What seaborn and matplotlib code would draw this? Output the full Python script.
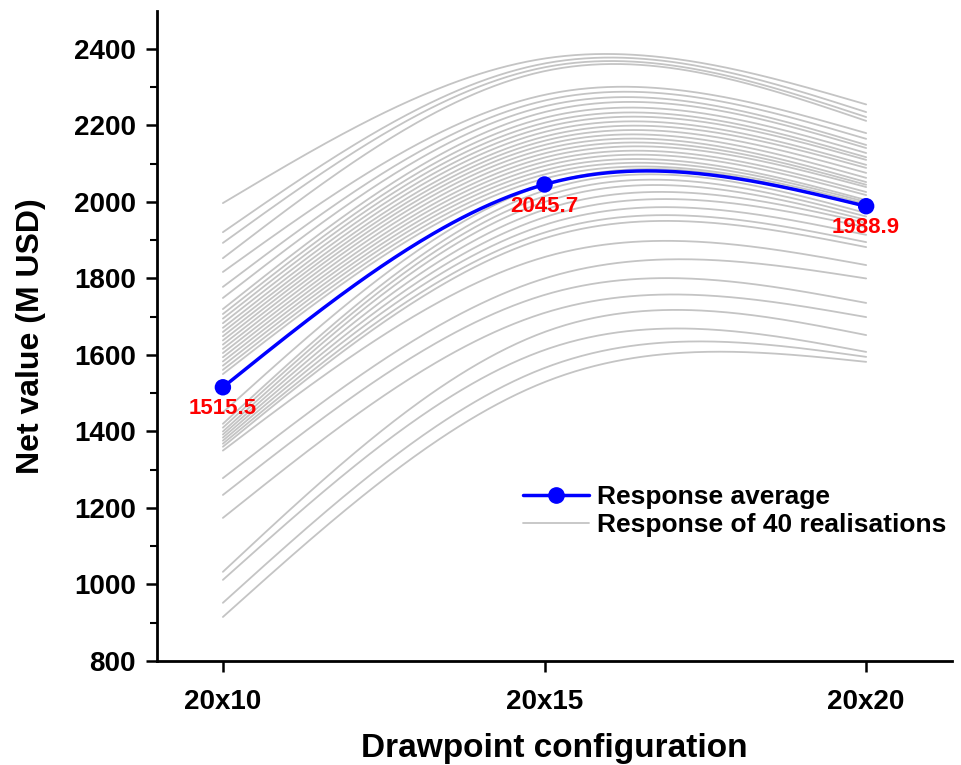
import numpy as np
import pandas as pd
import seaborn as sns
import matplotlib
matplotlib.use("Agg")
import matplotlib.pyplot as plt
from matplotlib.lines import Line2D

# drawpoint spacing (x positions) and tick labels
configs = [10, 15, 20]
config_labels = ["20x10", "20x15", "20x20"]

# net value of the 40 realisations, read at each configuration (M USD)
real_20x10 = [1997, 1921, 1893, 1853, 1817, 1778, 1749, 1720, 1707, 1695,
              1683, 1671, 1660, 1649, 1638, 1627, 1616, 1605, 1594, 1583,
              1572, 1561, 1550, 1450, 1420, 1410, 1400, 1392, 1384, 1376,
              1368, 1360, 1350, 1278, 1234, 1174, 1033, 1012, 952, 915]
real_20x15 = [2375, 2362, 2352, 2342, 2280, 2265, 2250, 2235, 2220, 2207,
              2195, 2183, 2171, 2160, 2149, 2138, 2127, 2116, 2105, 2094,
              2083, 2072, 2061, 2045, 2030, 2015, 2000, 1980, 1960, 1940,
              1920, 1905, 1856, 1800, 1757, 1710, 1660, 1613, 1566, 1529]
real_20x20 = [2255, 2235, 2222, 2212, 2180, 2165, 2149, 2141, 2128, 2117,
              2110, 2097, 2089, 2076, 2063, 2052, 2045, 2039, 2026, 2018,
              2005, 2000, 1995, 1987, 1971, 1962, 1953, 1945, 1934, 1914,
              1895, 1882, 1835, 1800, 1736, 1699, 1652, 1608, 1595, 1582]

# response average
avg_values = [1515.5, 2045.7, 1988.9]


def natural_spline(xk, yk, xs):
    """natural cubic spline through 3 equally spaced knots"""
    h = xk[1] - xk[0]
    m1 = 6.0 / h ** 2 * (yk[0] - 2 * yk[1] + yk[2]) / 4.0
    m = [0.0, m1, 0.0]
    out = np.empty_like(xs, dtype=float)
    for i, x in enumerate(xs):
        j = 0 if x <= xk[1] else 1
        a = xk[j + 1] - x
        b = x - xk[j]
        out[i] = (m[j] * a ** 3 / (6 * h) + m[j + 1] * b ** 3 / (6 * h)
                  + (yk[j] - m[j] * h ** 2 / 6) * a / h
                  + (yk[j + 1] - m[j + 1] * h ** 2 / 6) * b / h)
    return out


xs = np.linspace(configs[0], configs[-1], 200)
rows = []
for k, (a, b, c) in enumerate(zip(real_20x10, real_20x15, real_20x20)):
    ys = natural_spline(configs, [a, b, c], xs)
    rows.append(pd.DataFrame({"x": xs, "value": ys, "real": k}))
df_real = pd.concat(rows, ignore_index=True)
df_avg = pd.DataFrame({"x": xs, "value": natural_spline(configs, avg_values, xs)})
df_pts = pd.DataFrame({"x": configs, "value": avg_values})

sns.set_style("ticks")
plt.rcParams["font.family"] = ["Liberation Sans", "DejaVu Sans"]
plt.rcParams["font.weight"] = "bold"
for key in ["text.color", "axes.labelcolor", "xtick.color", "ytick.color",
            "axes.edgecolor"]:
    plt.rcParams[key] = "black"

fig = plt.figure(figsize=(9.61, 7.65), dpi=100)
ax = fig.add_axes([0.163, 0.136, 0.828, 0.850])

sns.lineplot(data=df_real, x="x", y="value", units="real", estimator=None,
             color="#c4c4c4", linewidth=1.3, sort=False, legend=False, ax=ax)
sns.lineplot(data=df_avg, x="x", y="value", color="#0000ff", linewidth=2.5,
             sort=False, legend=False, ax=ax, zorder=5)
sns.scatterplot(data=df_pts, x="x", y="value", color="#0000ff", s=140,
                edgecolor="none", legend=False, ax=ax, zorder=6)

for x, v in zip(configs, avg_values):
    ax.annotate(f"{v:.1f}", xy=(x, v), xytext=(0, -8),
                textcoords="offset points", ha="center", va="top",
                color="#ff0000", fontsize=16, fontweight="bold", zorder=7)

ax.set_xlim(8.97, 21.34)
ax.set_ylim(800, 2500)
ax.set_xticks(configs)
ax.set_xticklabels(config_labels)
ax.set_yticks(np.arange(800, 2401, 200))
ax.set_yticks(np.arange(900, 2500, 200), minor=True)
ax.tick_params(axis="both", which="major", labelsize=20, length=8, width=1.8,
               direction="out", pad=7)
ax.tick_params(axis="x", which="major", pad=12)
ax.tick_params(axis="y", which="minor", length=5, width=1.5, direction="out")
for lab in ax.get_xticklabels() + ax.get_yticklabels():
    lab.set_fontweight("bold")

ax.set_xlabel("Drawpoint configuration", fontsize=24, fontweight="bold",
              labelpad=13)
ax.set_ylabel("Net value (M USD)", fontsize=23, fontweight="bold",
              labelpad=20)

sns.despine(ax=ax)
for side in ["left", "bottom"]:
    ax.spines[side].set_linewidth(2)

handles = [
    Line2D([], [], color="#0000ff", linewidth=2.5, marker="o",
           markersize=11),
    Line2D([], [], color="#c4c4c4", linewidth=1.3),
]
ax.legend(handles, ["Response average", "Response of 40 realisations"],
          loc="upper left", bbox_to_anchor=(0.46, 0.27), frameon=False,
          handlelength=2.5, handletextpad=0.3,
          labelspacing=0.15, borderpad=0, borderaxespad=0,
          prop={"weight": "bold", "size": 19})

fig.savefig("out.png", dpi=100)
